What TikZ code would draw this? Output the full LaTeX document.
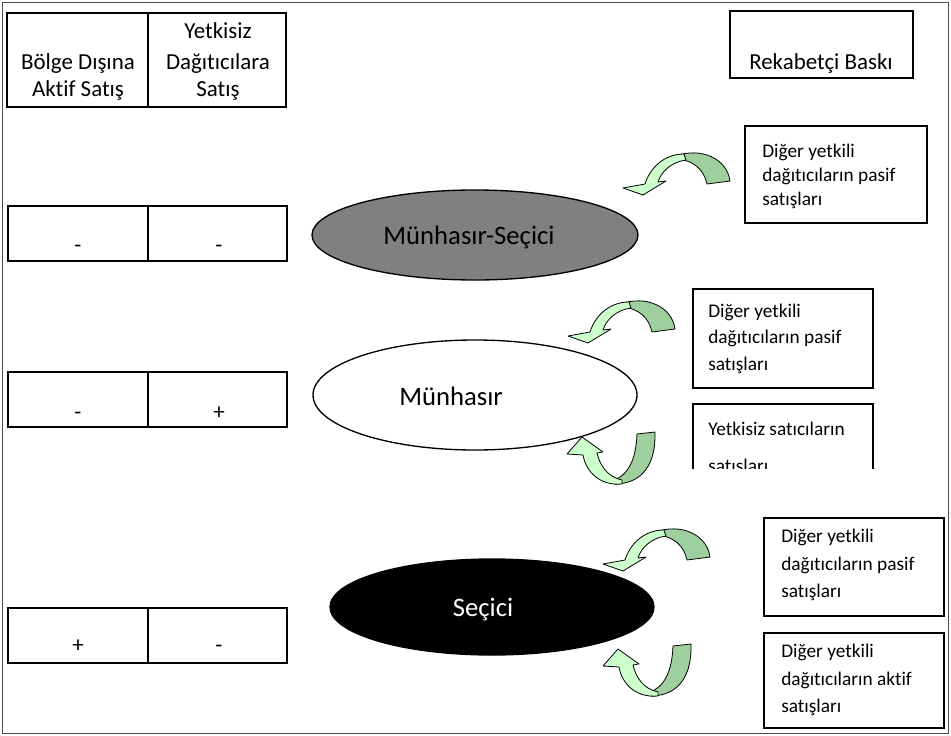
\documentclass[tikz,border=0pt]{standalone}
\usepackage{fontspec}
\setmainfont{Carlito}[Ligatures={NoCommon,NoContextual}]
\definecolor{bandlight}{HTML}{CCFFCC}
\definecolor{banddark}{HTML}{9FCF9F}
\definecolor{ovalgray}{HTML}{808080}

% curved block arrow bending over the top and pointing down-left
\newcommand{\overturn}[1]{%
  \begin{scope}[shift={#1}]
    \path[fold] (676,156) .. controls (700,147) and (727,158) .. (730,181)
      -- (707,184) .. controls (704,170) and (694,160) .. (676,159) -- cycle;
    \path[front] (684,154) .. controls (664,154) and (650,168) .. (645,184)
      -- (623,188) -- (643,195) -- (666,181) -- (658,182)
      .. controls (661,172) and (671,162) .. (686,160) -- cycle;
  \end{scope}}

% curved block arrow bending under the bottom and pointing up
\newcommand{\underturn}[1]{%
  \begin{scope}[shift={#1}]
    \path[fold] (637,434) -- (655,432) .. controls (656,462) and (644,484) .. (614,484)
      -- (614,480) .. controls (628,475) and (636,460) .. (637,434) -- cycle;
    \path[front] (622,484) .. controls (600,486) and (586,472) .. (583,455)
      -- (567,454) -- (582,437) -- (603,452) -- (597,453)
      .. controls (600,466) and (608,477) .. (622,480) -- cycle;
  \end{scope}}

\begin{document}
\begin{tikzpicture}[x=0.75pt,y=-0.75pt,
  frame/.style={draw=black!70, line width=0.8pt},
  cell/.style={draw=black, line width=1.6pt},
  note/.style={draw=black, line width=1.1pt},
  oval/.style={draw=black, line width=1pt},
  hdr/.style={font=\fontsize{17.2}{20}\selectfont, anchor=base, inner sep=0pt},
  notetext/.style={font=\fontsize{14.5}{17}\selectfont, anchor=base west, inner sep=0pt},
  bigtext/.style={font=\fontsize{20}{24}\selectfont, anchor=base, inner sep=0pt},
  fold/.style={fill=banddark, draw=black, line width=0.6pt, line join=round},
  front/.style={fill=bandlight, draw=black, line width=0.6pt, line join=round},
]
\useasboundingbox (0,0) rectangle (951,736);
\fill[white] (0,0) rectangle (951,736);
\draw[frame] (2.5,2.5) rectangle (948.5,733.5);

% column headers
\draw[cell] (7,13) rectangle (148,107);
\draw[cell] (148,13) rectangle (286,107);
\node[hdr] (h1a) at (78,69) {Bölge Dışına};
\node[hdr] (h1b) at (78,96) {Aktif Satış};
\node[hdr] (h2a) at (218,38) {Yetkisiz};
\node[hdr] (h2b) at (218,69) {Dağıtıcılara};
\node[hdr] (h2c) at (218,96) {Satış};

% competitive pressure header
\draw[cell] (730,11) rectangle (913,78);
\node[hdr] (rb) at (821,69) {Rekabetçi Baskı};

% rows of signs
\draw[cell] (8,206) rectangle (148,261);
\draw[cell] (148,206) rectangle (287,261);
\node[hdr] (r1a) at (78,252) {-};
\node[hdr] (r1b) at (219,252) {-};

\draw[cell] (8,372) rectangle (148,427);
\draw[cell] (148,372) rectangle (287,427);
\node[hdr] (r2a) at (78,419) {-};
\node[hdr] (r2b) at (219,419) {+};

\draw[cell] (8,608) rectangle (148,663);
\draw[cell] (148,608) rectangle (287,663);
\node[hdr] (r3a) at (78,652) {+};
\node[hdr] (r3b) at (219,652) {-};

% distribution systems
\filldraw[oval, fill=ovalgray] (475,235) ellipse [x radius=163, y radius=45];
\node[bigtext] (ms) at (469,244) {Münhasır-Seçici};

\filldraw[oval, fill=white] (475,395) ellipse [x radius=162, y radius=55];
\node[bigtext] (m) at (451,405) {Münhasır};

\filldraw[oval, fill=black] (492,607) ellipse [x radius=162, y radius=48];
\node[bigtext, text=white] (s) at (483,616) {Seçici};

% sources of pressure
\draw[note] (745,126) rectangle (927,223);
\node[notetext] (n1a) at (762,157) {Diğer yetkili};
\node[notetext] (n1b) at (762,181) {dağıtıcıların pasif};
\node[notetext] (n1c) at (762,205) {satışları};

\draw[note] (693,289) rectangle (873,388);
\node[notetext] (n2a) at (708,317) {Diğer yetkili};
\node[notetext] (n2b) at (708,343) {dağıtıcıların pasif};
\node[notetext] (n2c) at (708,370) {satışları};

\draw[note] (693,469) -- (693,404) -- (873,404) -- (873,469);
\begin{scope}
  \clip (690,400) rectangle (876,468);
  \node[notetext] (n3a) at (708,435) {Yetkisiz satıcıların};
  \node[notetext] (n3b) at (708,472) {satışları};
\end{scope}

\draw[note] (764,518) rectangle (944,616);
\node[notetext] (n4a) at (781,542) {Diğer yetkili};
\node[notetext] (n4b) at (781,570) {dağıtıcıların pasif};
\node[notetext] (n4c) at (781,597) {satışları};

\draw[note] (764,633) rectangle (944,728);
\node[notetext] (n5a) at (781,657) {Diğer yetkili};
\node[notetext] (n5b) at (781,685) {dağıtıcıların aktif};
\node[notetext] (n5c) at (781,712) {satışları};

% curved arrows
\overturn{(0,0)}
\overturn{(-55,148)}
\underturn{(0,0)}
\overturn{(-20,376)}
\underturn{(36,212)}
\end{tikzpicture}
\end{document}
